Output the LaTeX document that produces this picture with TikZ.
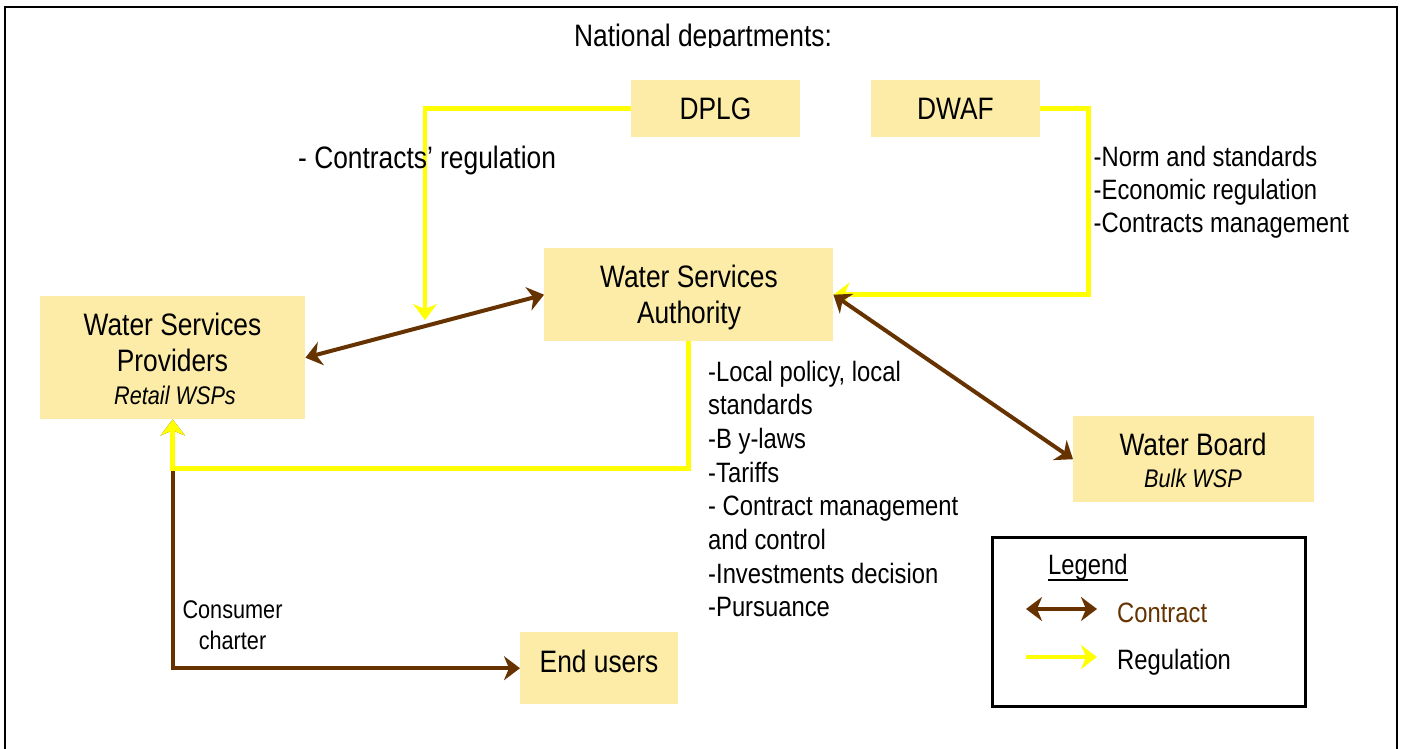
\documentclass[tikz,border=0pt]{standalone}
\usepackage{fontspec}
\setmainfont{Liberation Sans}[FakeStretch=0.85]
\usetikzlibrary{arrows.meta}
\definecolor{boxfill}{RGB}{252,236,168}
\definecolor{cbrown}{RGB}{102,51,0}
\definecolor{cyellow}{RGB}{255,255,0}
\newcommand\fmain{\fontsize{31}{36}\selectfont}
\newcommand\flist{\fontsize{28}{33.5}\selectfont}
\newcommand\fsmall{\fontsize{25.5}{31}\selectfont}
\tikzset{
  box/.style={rectangle, fill=boxfill, draw=none, inner sep=0pt, anchor=north west},
  txt/.style={inner sep=0pt, anchor=base},
  ltxt/.style={inner sep=0pt, anchor=base west},
  brn/.style={draw=cbrown, line width=4pt},
  yel/.style={draw=cyellow, line width=4.5pt},
}
\begin{document}
\begin{tikzpicture}[x=1pt,y=-1pt,>={Stealth[length=16pt,width=24pt,inset=5pt]}]
\useasboundingbox (0,0) rectangle (1402,749);
\fill[white] (0,0) rectangle (1402,749);
\draw[line width=2pt] (5,749) -- (5,7.5) -- (1396.5,7.5) -- (1396.5,749);

% title (clipped at bottom as in the reference)
\begin{scope}
\clip (0,0) rectangle (1402,47.5);
\node[txt, font=\fmain] (title) at (703,47) {National departments:};
\end{scope}

% boxes
\node[box, minimum width=169, minimum height=57] (dplg) at (631,80) {};
\node[box, minimum width=169, minimum height=57] (dwaf) at (871,80) {};
\node[box, minimum width=289, minimum height=93] (wsa) at (544,248) {};
\node[box, minimum width=265, minimum height=123] (wsp) at (40,296) {};
\node[box, minimum width=241, minimum height=86] (wb) at (1073,416) {};
\node[box, minimum width=158, minimum height=72] (eu) at (520,632) {};
\node[draw=black, line width=3pt, inner sep=0pt, anchor=north west,
      minimum width=313, minimum height=169] (leg) at (991,536) {};

% connectors
\coordinate (dplgEnd) at (425,320);
\draw[yel, ->] (dplg.west) -| (dplgEnd);
\draw[yel, ->] (dwaf.east) -- ++(48,0) |- (wsa.east);
\draw[brn, <->] (wsp.east) -- (wsa.west);
\draw[brn, <->] (wsa.east) -- (wb.west);
\draw[brn, <->] (wsp.south) |- (eu.west);
\draw[yel, ->] (wsa.south) -- ++(0,127) -| (wsp.south);

% legend arrows
\coordinate (l1a) at (1026,609);
\coordinate (l1b) at (1097,609);
\coordinate (l2a) at (1026,657);
\coordinate (l2b) at (1097,657);
\draw[brn, <->] (l1a) -- (l1b);
\draw[yel, ->] (l2a) -- (l2b);

% box texts
\node[txt, font=\fmain] (dplgT) at (715.5,120) {DPLG};
\node[txt, font=\fmain] (dwafT) at (955.5,120) {DWAF};
\node[txt, font=\fmain] (wsaT1) at (689,287.5) {Water Services};
\node[txt, font=\fmain] (wsaT2) at (689,323.5) {Authority};
\node[txt, font=\fmain] (wspT1) at (172.5,335) {Water Services};
\node[txt, font=\fmain] (wspT2) at (172.5,371.5) {Providers};
\node[txt, font=\fsmall\itshape] (wspT3) at (175,404) {Retail WSPs};
\node[txt, font=\fmain] (wbT1) at (1193,455) {Water Board};
\node[txt, font=\fsmall\itshape] (wbT2) at (1193,487) {Bulk WSP};
\node[txt, font=\fmain] (euT) at (599,672) {End users};

% annotations
\node[ltxt, font=\fmain] (dplgL) at (298,168) {- Contracts’ regulation};
\node[ltxt, font=\flist] (dw1) at (1093.5,166) {-Norm and standards};
\node[ltxt, font=\flist] (dw2) at (1093.5,199) {-Economic regulation};
\node[ltxt, font=\flist] (dw3) at (1093.5,232) {-Contracts management};

\node[ltxt, font=\flist] (ws1) at (708,381.5) {-Local policy, local};
\node[ltxt, font=\flist] (ws2) at (708,414) {standards};
\node[ltxt, font=\flist] (ws3) at (708,448) {-B y-laws};
\node[ltxt, font=\flist] (ws4) at (708,482) {-Tariffs};
\node[ltxt, font=\flist] (ws5) at (708,515) {- Contract management};
\node[ltxt, font=\flist] (ws6) at (708,549) {and control};
\node[ltxt, font=\flist] (ws7) at (708,583) {-Investments decision};
\node[ltxt, font=\flist] (ws8) at (708,616) {-Pursuance};

\node[txt, font=\fsmall] (cc1) at (232.5,618) {Consumer};
\node[txt, font=\fsmall] (cc2) at (232.5,649) {charter};

% legend texts
\node[ltxt, font=\flist] (legT) at (1048,574) {Legend};
\draw[line width=1.8pt] (legT.south west) -- (legT.south east);
\node[ltxt, font=\flist, text=cbrown] (legC) at (1117,622) {Contract};
\node[ltxt, font=\flist] (legR) at (1117,669.5) {Regulation};
\end{tikzpicture}
\end{document}
